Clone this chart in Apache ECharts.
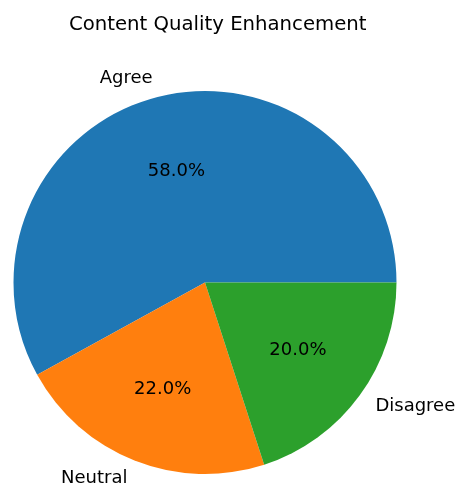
<!DOCTYPE html>
<html>
<head>
<meta charset="utf-8">
<script src="https://cdn.jsdelivr.net/npm/echarts@6/dist/echarts.min.js"></script>
<style>
  html, body { margin: 0; padding: 0; background: #fff; }
  #chart { width: 455px; height: 489px; }
</style>
</head>
<body>
<div id="chart"></div>
<script>
'use strict';
var title = 'Content Quality Enhancement';
var categories = ['Agree', 'Neutral', 'Disagree'];
var values = [58, 22, 20];
var colors = ['#1f77b4', '#ff7f0e', '#2ca02c'];

var center = [205, 282.5];
var R = 191.5;
var font = 'DejaVu Sans';

var data = categories.map(function (c, i) {
  return { name: c, value: values[i], itemStyle: { color: colors[i] } };
});
var total = values.reduce(function (a, b) { return a + b; }, 0);

// invisible copies, only used to place the labels
var ghost = data.map(function (d) {
  return { name: d.name, value: d.value, itemStyle: { color: 'rgba(0,0,0,0)' } };
});

var chart = echarts.init(document.getElementById('chart'));
chart.setOption({
  animation: false,
  title: {
    text: title,
    left: 64,
    top: 10,
    textStyle: { fontFamily: font, fontSize: 19.7, fontWeight: 'normal', color: '#000' }
  },
  series: [
    {
      type: 'pie',
      center: center,
      radius: [0, R],
      startAngle: 0,
      clockwise: false,
      silent: true,
      label: { show: false },
      labelLine: { show: false },
      data: data
    },
    {
      // percentages at 0.6 R
      type: 'pie',
      center: center,
      radius: [0, 2 * (0.6 * R - 3)],
      startAngle: 0,
      clockwise: false,
      silent: true,
      label: {
        show: true,
        position: 'inside',
        fontFamily: font,
        fontSize: 18,
        color: '#000',
        padding: [3, 0, 0, 0],
        formatter: function (p) { return (p.value / total * 100).toFixed(1) + '%'; }
      },
      labelLine: { show: false },
      data: ghost
    },
    {
      // category names at 1.1 R
      type: 'pie',
      center: center,
      radius: [0, R],
      startAngle: 0,
      clockwise: false,
      silent: true,
      avoidLabelOverlap: false,
      label: {
        show: true,
        position: 'outside',
        distanceToLabelLine: 0,
        fontFamily: font,
        fontSize: 18,
        color: '#000',
        padding: [3, 0, 0, 0]
      },
      labelLine: { show: false, length: 0.1 * R, length2: 0 },
      data: ghost
    }
  ]
});
</script>
</body>
</html>
